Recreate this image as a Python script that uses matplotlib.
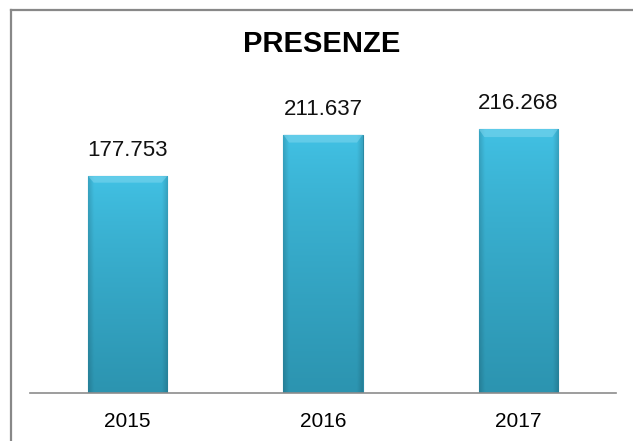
import numpy as np
import matplotlib.pyplot as plt
from matplotlib.lines import Line2D

years = ["2015", "2016", "2017"]
presenze = [177753, 211637, 216268]
labels = ["177.753", "211.637", "216.268"]

plt.rcParams["font.family"] = ["Liberation Sans", "DejaVu Sans"]

fig = plt.figure(figsize=(6.33, 4.41), dpi=100)
ax = fig.add_axes([30 / 633, 48 / 441, 586 / 633, 305 / 441])

x = np.arange(len(years))
width = 0.405
bars = ax.bar(x, presenze, width=width, color="#35a9c9", edgecolor="#2a8aa5", linewidth=0.8, zorder=2)

# gradient fill with a bit of bevel
top = np.array([0x42, 0xc2, 0xe5]) / 255
bot = np.array([0x2c, 0x94, 0xb0]) / 255
ny, nx = 200, 60
t = np.linspace(0, 1, ny)[:, None] ** 0.8  # 0 = top row
img = top[None, None, :] * (1 - t[..., None]) + bot[None, None, :] * t[..., None]
img = np.repeat(img, nx, axis=1)
xs = np.linspace(0, 1, nx)
edge = np.clip(np.minimum(xs, 1 - xs) / 0.07, 0, 1)
img = img * (0.86 + 0.14 * edge)[None, :, None]

for b, v in zip(bars, presenze):
    x0 = b.get_x()
    im = ax.imshow(img, extent=[x0, x0 + b.get_width(), 0, v], aspect="auto", zorder=2.5,
                   interpolation="bilinear")
    im.set_clip_path(b)
    # light top bevel
    hb = v * 0.03
    ax.fill([x0, x0 + b.get_width(), x0 + b.get_width() * 0.93, x0 + b.get_width() * 0.07],
            [v, v, v - hb, v - hb], color="#7fd6ee", alpha=0.55, zorder=2.6, lw=0)

ax.set_xlim(-0.5, 2.5)
ax.set_ylim(0, 250000)

for xi, v, lab in zip(x, presenze, labels):
    ax.annotate(lab, (xi, v), xytext=(0, 11), textcoords="offset points",
                ha="center", va="bottom", fontsize=16, color="#111111")

ax.set_xticks(x)
ax.set_xticklabels(years, fontsize=15)
ax.tick_params(axis="x", length=0, pad=14)
ax.set_yticks([])
for s in ["top", "right", "left"]:
    ax.spines[s].set_visible(False)
ax.spines["bottom"].set_color("#8c8c8c")
ax.spines["bottom"].set_linewidth(1.2)

fig.text(322 / 633, 1 - 44 / 441, "PRESENZE", ha="center", va="center",
         fontsize=21, fontweight="bold")

# partial frame (top and left edges)
fig.add_artist(Line2D([11 / 633, 1.0], [1 - 9.5 / 441, 1 - 9.5 / 441], color="#888888", lw=1.6))
fig.add_artist(Line2D([11 / 633, 11 / 633], [0, 1 - 9.5 / 441], color="#888888", lw=1.6))

fig.savefig("out.png", dpi=100)
